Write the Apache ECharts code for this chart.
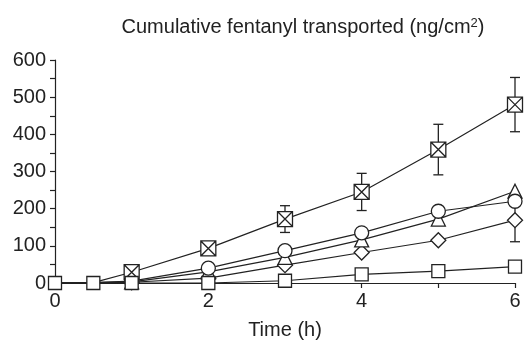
<!DOCTYPE html>
<html>
<head>
<meta charset="utf-8">
<script src="https://cdn.jsdelivr.net/npm/echarts@6/dist/echarts.min.js"></script>
<style>
  html, body { margin: 0; padding: 0; background: #fff; }
  #chart { width: 528px; height: 341px; }
</style>
</head>
<body>
<div id="chart"></div>
<script>
// Sampling times (h)
const times = [0, 0.5, 1, 2, 3, 4, 5, 6];

// Cumulative fentanyl transported (ng/cm2) per formulation
const crossedSquare = [0, 1, 29, 93, 172, 245, 359, 480];
const crossedSquareErr = [0, 0, 0, 0, 36, 50, 68, 73];
const circle = [0, 1, 5, 40, 87, 135, 193, 220];
const triangle = [0, 1, 3, 30, 69, 116, 172, 247];
const diamond = [0, 0, 2, 13, 48, 82, 115, 169];
const diamondErr = [0, 0, 0, 0, 0, 0, 0, 58];
const square = [0, 0, 0, 0, 6, 23, 32, 44];

// Axis ticks
const xTicks = [0, 2, 4, 6];
const yTicks = [0, 100, 200, 300, 400, 500, 600];

const ink = '#222';
const font = '"Liberation Sans", Arial, Helvetica, sans-serif';

// Early points (t < 1 h) sit on the baseline; only the square marker is drawn there
function pairs(vals, hideEarly) {
  return times.map((t, i) => {
    const p = { value: [t, vals[i]] };
    if (hideEarly && t < 1) p.symbol = 'none';
    return p;
  });
}

function errorSeries(vals, errs) {
  const data = [];
  times.forEach((t, i) => {
    if (errs[i] > 0) data.push([t, vals[i] - errs[i], vals[i] + errs[i]]);
  });
  return {
    type: 'custom',
    data: data,
    z: 1,
    renderItem: function (params, api) {
      const lo = api.coord([api.value(0), api.value(1)]);
      const hi = api.coord([api.value(0), api.value(2)]);
      const w = 5;
      const style = { stroke: ink, lineWidth: 1.3 };
      return {
        type: 'group',
        children: [
          { type: 'line', shape: { x1: lo[0], y1: lo[1], x2: hi[0], y2: hi[1] }, style: style },
          { type: 'line', shape: { x1: lo[0] - w, y1: lo[1], x2: lo[0] + w, y2: lo[1] }, style: style },
          { type: 'line', shape: { x1: hi[0] - w, y1: hi[1], x2: hi[0] + w, y2: hi[1] }, style: style }
        ]
      };
    }
  };
}

function lineSeries(vals, symbol, size, z, hideEarly) {
  return {
    type: 'line',
    data: pairs(vals, hideEarly),
    symbol: symbol,
    symbolSize: size,
    showAllSymbol: true,
    z: z,
    lineStyle: { color: ink, width: 1.2 },
    itemStyle: { color: '#fff', borderColor: ink, borderWidth: 1.3 },
    emphasis: { disabled: true },
    animation: false
  };
}

const boxX = 'path://M0,0H10V10H0Z M0,0L10,10 M10,0L0,10';

const chart = echarts.init(document.getElementById('chart'), null, { renderer: 'canvas' });
chart.setOption({
  animation: false,
  title: {
    text: 'Cumulative fentanyl transported (ng/cm{sup|2})',
    left: 298,
    textAlign: 'center',
    top: 12,
    textStyle: {
      fontFamily: font,
      fontSize: 20,
      fontWeight: 'normal',
      color: ink,
      rich: {
        sup: { fontFamily: font, fontSize: 13, color: ink, verticalAlign: 'top', padding: [0, 0, 8, 0] }
      }
    }
  },
  grid: { left: 55, right: 13, top: 60, bottom: 58, containLabel: false, outerBoundsMode: 'none' },
  xAxis: {
    type: 'value',
    min: 0,
    max: 6,
    interval: 1,
    name: 'Time (h)',
    nameLocation: 'middle',
    nameGap: 37,
    nameTextStyle: { fontFamily: font, fontSize: 20, color: ink },
    axisLine: { lineStyle: { color: ink, width: 1.2 } },
    axisTick: { length: 5, lineStyle: { color: ink, width: 1.2 } },
    splitLine: { show: false },
    axisLabel: {
      fontFamily: font, fontSize: 20, color: ink, margin: 8,
      formatter: v => (xTicks.indexOf(v) >= 0 ? String(v) : '')
    }
  },
  yAxis: {
    type: 'value',
    min: 0,
    max: 600,
    interval: 50,
    axisLine: { show: true, lineStyle: { color: ink, width: 1.2 } },
    axisTick: { show: true, length: 5, lineStyle: { color: ink, width: 1.2 } },
    splitLine: { show: false },
    axisLabel: {
      fontFamily: font, fontSize: 20, color: ink, margin: 9,
      formatter: v => (yTicks.indexOf(v) >= 0 ? String(v) : '')
    }
  },
  series: [
    errorSeries(crossedSquare, crossedSquareErr),
    errorSeries(diamond, diamondErr),
    lineSeries(diamond, 'diamond', 15, 2, true),
    lineSeries(triangle, 'triangle', 14, 3, true),
    lineSeries(circle, 'circle', 14, 4, true),
    lineSeries(crossedSquare, boxX, 15, 5, true),
    lineSeries(square, 'rect', 13, 6, false)
  ]
});
</script>
</body>
</html>
